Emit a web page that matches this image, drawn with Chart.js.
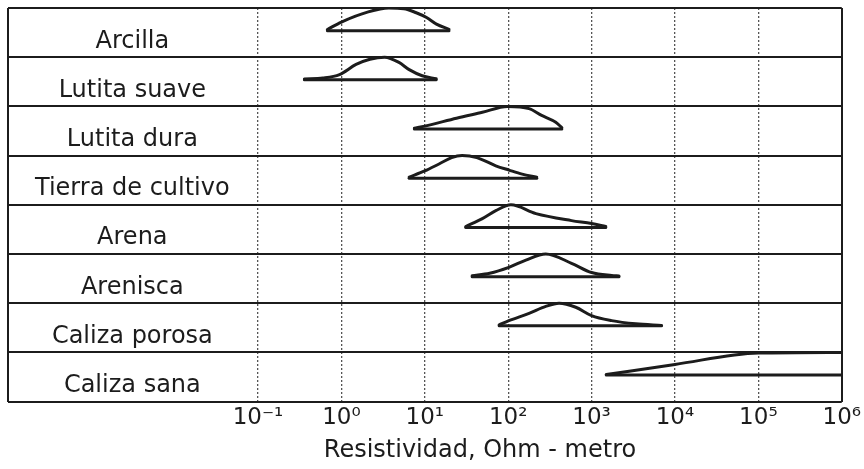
<!DOCTYPE html>
<html>
<head>
<meta charset="utf-8">
<script src="https://cdn.jsdelivr.net/npm/chart.js@4.4.1/dist/chart.umd.min.js"></script>
<style>
  html, body { margin: 0; padding: 0; background: #fff; }
  #wrap { width: 864px; height: 469px; }
</style>
</head>
<body>
<div id="wrap"><canvas id="resChart" width="864" height="469"></canvas></div>
<script>
// rock types, top to bottom
const categories = ['Arcilla', 'Lutita suave', 'Lutita dura', 'Tierra de cultivo',
                    'Arena', 'Arenisca', 'Caliza porosa', 'Caliza sana'];

// x axis decades
const tickExps = [-1, 0, 1, 2, 3, 4, 5, 6];
const tickLabels = ['10⁻¹', '10⁰', '10¹', '10²', '10³', '10⁴', '10⁵', '10⁶'];

// resistivity (Ohm-m) along each curve, and relative height of the curve (0 = base, 1 = top)
const rhoArcilla = [0.68, 1.0, 2.1, 3.7, 5.6, 7.9, 10.5, 13.8, 19.5];
const hArcilla   = [0.05, 0.38, 0.83, 1.0, 0.97, 0.79, 0.58, 0.29, 0.06];

const rhoLutitaSuave = [0.36, 0.6, 0.95, 1.5, 2.2, 3.3, 4.9, 6.5, 9.3, 13.7];
const hLutitaSuave   = [0.04, 0.08, 0.23, 0.68, 0.91, 1.0, 0.77, 0.45, 0.18, 0.05];

const rhoLutitaDura = [7.5, 10, 24, 49, 98, 178, 252, 372, 440];
const hLutitaDura   = [0.04, 0.13, 0.48, 0.74, 1.0, 0.9, 0.6, 0.3, 0.06];

const rhoTierra = [6.5, 10, 15, 21, 28, 42, 71, 102, 147, 220];
const hTierra   = [0.05, 0.32, 0.64, 0.91, 1.0, 0.91, 0.55, 0.36, 0.18, 0.05];

const rhoArena = [31, 49, 71, 108, 215, 575, 1000, 1480];
const hArena   = [0.04, 0.39, 0.74, 1.0, 0.61, 0.3, 0.17, 0.04];

const rhoArenisca = [37, 60, 102, 163, 282, 575, 1000, 1740, 2130];
const hArenisca   = [0.04, 0.15, 0.41, 0.73, 1.0, 0.59, 0.18, 0.05, 0.03];

const rhoCalizaPorosa = [78, 102, 178, 282, 407, 646, 1000, 1740, 3390, 6900];
const hCalizaPorosa   = [0.04, 0.23, 0.55, 0.86, 1.0, 0.82, 0.45, 0.23, 0.09, 0.02];

const rhoCalizaSana = [1500, 10000, 100000, 1000000];
const hCalizaSana   = [0.02, 0.47, 0.97, 1.0];

const rows = [
    [rhoArcilla, hArcilla],
    [rhoLutitaSuave, hLutitaSuave],
    [rhoLutitaDura, hLutitaDura],
    [rhoTierra, hTierra],
    [rhoArena, hArena],
    [rhoArenisca, hArenisca],
    [rhoCalizaPorosa, hCalizaPorosa],
    [rhoCalizaSana, hCalizaSana]
];

const BASE = 0.46;        // base line sits a bit under half way down each row
const LABEL_POS = 0.68;   // labels sit a little below the middle of the row
const INK = '#1c1c1c';

const datasets = [];
rows.forEach(([rho, h], i) => {
    // bell curve
    datasets.push({
        data: rho.map((r, k) => ({ x: r, y: i + BASE * (1 - h[k]) })),
        borderColor: INK,
        borderWidth: 3,
        cubicInterpolationMode: 'monotone',
        borderCapStyle: 'round',
        pointRadius: 0
    });
    // base line from min to max
    datasets.push({
        data: [{ x: rho[0], y: i + BASE }, { x: rho[rho.length - 1], y: i + BASE }],
        borderColor: INK,
        borderWidth: 3,
        tension: 0,
        borderCapStyle: 'round',
        pointRadius: 0
    });
});

// outer frame and row lines across the label column
const tableFrame = {
    id: 'tableFrame',
    afterDatasetsDraw(chart) {
        const { ctx, chartArea, scales: { y } } = chart;
        const left = 8;
        const top = Math.round(y.getPixelForValue(0));
        const bottom = Math.round(y.getPixelForValue(categories.length));
        ctx.save();
        ctx.strokeStyle = INK;
        ctx.lineWidth = 2;
        ctx.beginPath();
        for (let i = 0; i <= categories.length; i++) {
            const py = Math.round(y.getPixelForValue(i));
            ctx.moveTo(left, py);
            ctx.lineTo(chartArea.left, py);
        }
        ctx.moveTo(left, top);
        ctx.lineTo(left, bottom);
        ctx.moveTo(Math.round(chartArea.right), top);
        ctx.lineTo(Math.round(chartArea.right), bottom);
        ctx.stroke();
        ctx.restore();
    }
};

Chart.defaults.font.family = "'DejaVu Sans', sans-serif";
Chart.defaults.color = '#1c1c1c';

const ctx = document.getElementById('resChart').getContext('2d');
new Chart(ctx, {
    type: 'line',
    data: { datasets: datasets },
    options: {
        responsive: false,
        animation: false,
        layout: { padding: { left: 117, right: 21, top: 8, bottom: 0 } },
        plugins: {
            legend: { display: false },
            tooltip: { enabled: false },
            title: {
                display: true,
                text: 'Resistividad, Ohm - metro',
                position: 'bottom',
                align: 'center',
                color: '#1c1c1c',
                font: { size: 24, weight: 'normal' },
                padding: { top: 1, bottom: 4 }
            }
        },
        scales: {
            x: {
                type: 'logarithmic',
                min: Math.pow(10, tickExps[0]),
                max: Math.pow(10, tickExps[tickExps.length - 1]),
                afterBuildTicks: scale => {
                    scale.ticks = tickExps.map(e => ({ value: Math.pow(10, e) }));
                },
                ticks: {
                    autoSkip: false,
                    maxRotation: 0,
                    padding: 3,
                    font: { size: 23 },
                    callback: (value, index) => tickLabels[index]
                },
                grid: { color: '#555', lineWidth: 1.3, drawTicks: false },
                border: { display: false, dash: [2, 2] }
            },
            y: {
                type: 'linear',
                reverse: true,
                min: 0,
                max: categories.length,
                afterFit: scale => {
                    scale.width = 141;
                    scale.paddingTop = 0;
                    scale.paddingBottom = 0;
                },
                afterBuildTicks: scale => {
                    const t = [];
                    for (let i = 0; i <= categories.length; i++) {
                        t.push({ value: i });
                        if (i < categories.length) t.push({ value: i + LABEL_POS });
                    }
                    scale.ticks = t;
                },
                ticks: {
                    autoSkip: false,
                    mirror: true,          // keeps the labels unclipped in the wide label column
                    crossAlign: 'center',
                    padding: -223,
                    font: { size: 24 },
                    callback: value => Number.isInteger(value) ? '' : categories[Math.floor(value)]
                },
                grid: {
                    drawTicks: false,
                    color: c => Number.isInteger(c.tick.value) ? INK : 'rgba(0,0,0,0)',
                    lineWidth: c => Number.isInteger(c.tick.value) ? 2 : 0
                },
                border: { display: false }
            }
        }
    },
    plugins: [tableFrame]
});
</script>
</body>
</html>
